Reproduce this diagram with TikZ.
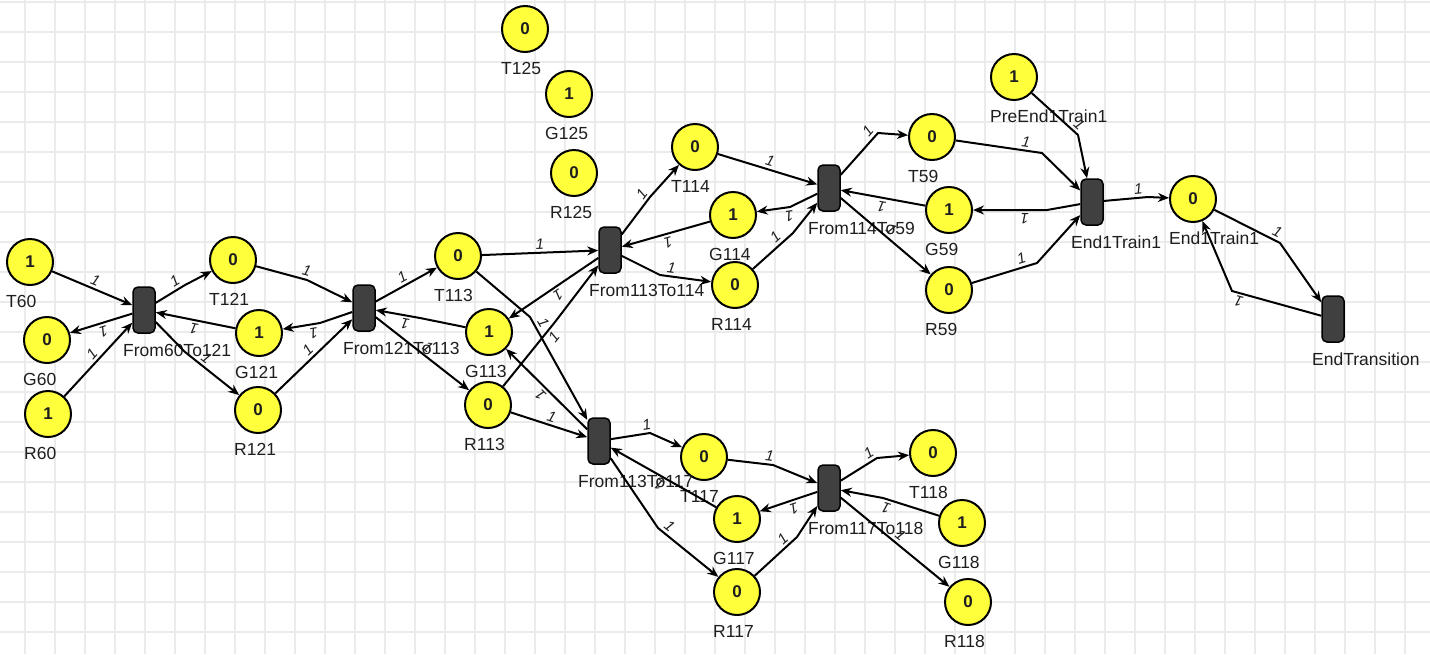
\documentclass[tikz,border=0pt]{standalone}
\usepackage{fontspec}
\setmainfont{Liberation Sans}
\usetikzlibrary{arrows.meta}

\definecolor{tokenyellow}{HTML}{FFFF3C}
\definecolor{transgray}{HTML}{404040}
\definecolor{textgray}{HTML}{1E1E1E}
\definecolor{gridgray}{HTML}{EBEBEB}

\tikzset{
  lbl/.style={anchor=north west, inner sep=0pt, text=textgray, font=\fontsize{17.5}{17.5}\selectfont},
  place/.style={circle, draw, line width=2pt, fill=tokenyellow, minimum size=46pt, inner sep=0pt,
    text=textgray, font=\fontsize{17}{17}\selectfont\bfseries,
    label={[lbl, xshift=-24pt, yshift=-9pt]-90:#1}},
  trans/.style={rectangle, rounded corners=5pt, draw, line width=1.5pt, fill=transgray,
    minimum width=22pt, minimum height=46pt, inner sep=0pt,
    label={[lbl, xshift=-21pt, yshift=-10pt]-90:#1}},
  arrowline/.style={-{Stealth[length=11pt,width=9pt]}, line width=2pt},
  wt/.style={sloped, allow upside down, above, inner sep=2.5pt, text=textgray,
    font=\fontsize{15}{15}\selectfont\itshape},
  gridline/.style={draw=gridgray, line width=2pt}
}

\begin{document}
\begin{tikzpicture}[x=1pt, y=-1pt]
            \useasboundingbox (0,0) rectangle (1430,654);
            \draw[gridline, step=30pt, shift={(25pt,-2pt)}] (-25,-2) grid (1405,652);

            % places
            \node[place=T125] (T125) at (525,29) {0};
            \node[place=G125] (G125) at (569,94) {1};
            \node[place=R125] (R125) at (574,173) {0};
            \node[place=T60] (T60) at (30,262) {1};
            \node[place=G60] (G60) at (47,340) {0};
            \node[place=R60] (R60) at (48,414) {1};
            \node[place=T121] (T121) at (233,260) {0};
            \node[place=G121] (G121) at (259,333) {1};
            \node[place=R121] (R121) at (258,410) {0};
            \node[place=T113] (T113) at (458,256) {0};
            \node[place=G113] (G113) at (489,332) {1};
            \node[place=R113] (R113) at (488,405) {0};
            \node[place=T114] (T114) at (695,147) {0};
            \node[place=G114] (G114) at (733,215) {1};
            \node[place=R114] (R114) at (735,285) {0};
            \node[place=T59] (T59) at (932,137) {0};
            \node[place=G59] (G59) at (949,210) {1};
            \node[place=R59] (R59) at (949,290) {0};
            \node[place=PreEnd1Train1] (PreEnd1Train1) at (1014,77) {1};
            \node[place=End1Train1] (End1Train1) at (1193,199) {0};
            \node[place=T117] (T117) at (704,457) {0};
            \node[place=G117] (G117) at (737,519) {1};
            \node[place=R117] (R117) at (737,592) {0};
            \node[place=T118] (T118) at (933,453) {0};
            \node[place=G118] (G118) at (962,523) {1};
            \node[place=R118] (R118) at (968,602) {0};

            % transitions
            \node[trans=From60To121] (From60To121) at (144,310) {};
            \node[trans=From121To113] (From121To113) at (364,308) {};
            \node[trans=From113To114] (From113To114) at (610,250) {};
            \node[trans=From113To117] (From113To117) at (599,441) {};
            \node[trans=From114To59] (From114To59) at (829,188) {};
            \node[trans=From117To118] (From117To118) at (829,488) {};
            \node[trans=End1Train1] (End1Train1t) at (1092,202) {};
            \node[trans=EndTransition] (EndTransition) at (1333,319) {};

            % From60To121
            \draw[arrowline] (T60) -- node[wt]{1} (From60To121);
            \draw[arrowline] (From60To121) -- node[wt]{1} (G60);
            \draw[arrowline] (R60) -- node[wt]{1} (From60To121);
            \draw[arrowline] (From60To121) -- node[wt,pos=0.8]{1} (185,285) -- (T121);
            \draw[arrowline] (G121) -- node[wt]{1} (From60To121);
            \draw[arrowline] (From60To121) -- (185,352) -- node[wt,pos=0.3]{1} (R121);

            % From121To113
            \draw[arrowline] (T121) -- node[wt,pos=0.95]{1} (307,280) -- (From121To113);
            \draw[arrowline] (From121To113) -- (320,323) -- node[wt,pos=0.2]{1} (G121);
            \draw[arrowline] (R121) -- node[wt]{1} (From121To113);
            \draw[arrowline] (From121To113) -- node[wt]{1} (T113);
            \draw[arrowline] (G113) -- (420,318) -- node[wt,pos=0.3]{1} (From121To113);
            \draw[arrowline] (From121To113) -- node[wt]{1} (R113);

            % From113To114
            \draw[arrowline] (T113) -- node[wt]{1} (From113To114);
            \draw[arrowline] (From113To114) -- node[wt]{1} (G113);
            \draw[arrowline] (R113) -- node[wt,below,pos=0.85]{1} (555,322) -- (From113To114);
            \draw[arrowline] (From113To114) -- node[wt,pos=0.95]{1} (650,197) -- (T114);
            \draw[arrowline] (G114) -- node[wt]{1} (From113To114);
            \draw[arrowline] (From113To114) -- (660,275) -- node[wt,pos=0.2]{1} (R114);

            % From114To59
            \draw[arrowline] (T114) -- node[wt]{1} (From114To59);
            \draw[arrowline] (From114To59) -- (790,207) -- node[wt,pos=0.05]{1} (G114);
            \draw[arrowline] (R114) -- node[wt,pos=0.7]{1} (793,233) -- (From114To59);
            \draw[arrowline] (From114To59) -- node[wt,pos=0.9]{1} (878,133) -- (T59);
            \draw[arrowline] (G59) -- node[wt]{1} (From114To59);
            \draw[arrowline] (From114To59) -- node[wt]{1} (R59);

            % End1Train1
            \draw[arrowline] (PreEnd1Train1) -- node[wt,pos=0.9]{1} (1078,135) -- (End1Train1t);
            \draw[arrowline] (T59) -- node[wt,pos=0.8]{1} (1042,153) -- (End1Train1t);
            \draw[arrowline] (End1Train1t) -- (1047,210) -- node[wt,pos=0.3]{1} (G59);
            \draw[arrowline] (R59) -- node[wt,pos=0.8]{1} (1037,263) -- (End1Train1t);
            \draw[arrowline] (End1Train1t) -- node[wt,pos=0.8]{1} (1148,197) -- (End1Train1);

            % EndTransition
            \draw[arrowline] (End1Train1) -- node[wt,pos=0.9]{1} (1280,243) -- (EndTransition);
            \draw[arrowline] (EndTransition) -- node[wt,pos=0.9]{1} (1232,291) -- (End1Train1);

            % From113To117
            \draw[arrowline] (T113) -- (530,317) -- node[wt,pos=0.1]{1} (From113To117);
            \draw[arrowline] (From113To117) -- node[wt]{1} (G113);
            \draw[arrowline] (R113) -- node[wt]{1} (From113To117);
            \draw[arrowline] (From113To117) -- node[wt,pos=0.95]{1} (650,433) -- (T117);
            \draw[arrowline] (G117) -- node[wt]{1} (From113To117);
            \draw[arrowline] (From113To117) -- (658,528) -- node[wt,pos=0.1]{1} (R117);

            % From117To118
            \draw[arrowline] (T117) -- node[wt,pos=0.9]{1} (773,465) -- (From117To118);
            \draw[arrowline] (From117To118) -- (793,500) -- node[wt,pos=0.05]{1} (G117);
            \draw[arrowline] (R117) -- node[wt,pos=0.8]{1} (797,537) -- (From117To118);
            \draw[arrowline] (From117To118) -- node[wt,pos=0.9]{1} (877,458) -- (T118);
            \draw[arrowline] (G118) -- node[wt,pos=0.9]{1} (883,498) -- (From117To118);
            \draw[arrowline] (From117To118) -- node[wt]{1} (R118);
\end{tikzpicture}
\end{document}
